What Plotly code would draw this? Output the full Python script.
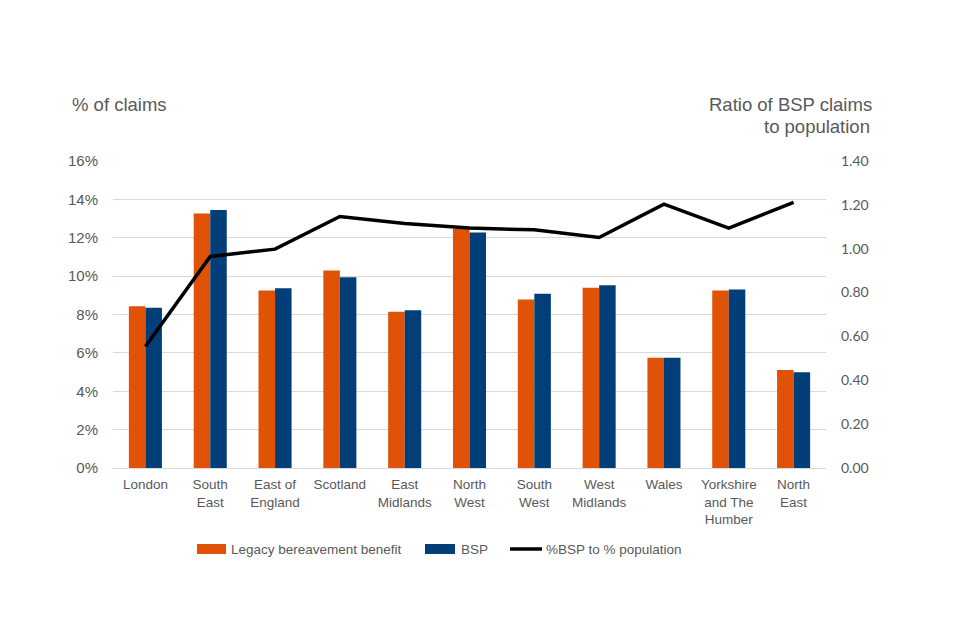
import plotly.graph_objects as go

regions = ["London", "South<br>East", "East of<br>England", "Scotland", "East<br>Midlands",
           "North<br>West", "South<br>West", "West<br>Midlands", "Wales",
           "Yorkshire<br>and The<br>Humber", "North<br>East"]
legacy = [8.43, 13.27, 9.25, 10.29, 8.14, 12.47, 8.78, 9.39, 5.75, 9.25, 5.11]
bsp = [8.35, 13.44, 9.37, 9.94, 8.22, 12.27, 9.08, 9.53, 5.75, 9.30, 4.99]
ratio = [0.554, 0.965, 0.998, 1.147, 1.115, 1.094, 1.086, 1.051, 1.203, 1.094, 1.211]

left_ticks = [0, 2, 4, 6, 8, 10, 12, 14, 16]
right_ticks = [0, 0.2, 0.4, 0.6, 0.8, 1.0, 1.2, 1.4]

ORANGE = "#E05206"
BLUE = "#023F78"
GREY = "#595959"
FONT = "Liberation Sans, Arial, sans-serif"

names = ["Legacy bereavement benefit", "BSP", "%BSP to % population"]

fig = go.Figure()
fig.add_trace(go.Bar(x=regions, y=legacy, name=names[0],
                     marker=dict(color=ORANGE, line=dict(width=0))))
fig.add_trace(go.Bar(x=regions, y=bsp, name=names[1],
                     marker=dict(color=BLUE, line=dict(width=0))))
fig.add_trace(go.Scatter(x=regions, y=ratio, name=names[2], yaxis="y2",
                         mode="lines", line=dict(color="black", width=3.5)))

# page has an 8px body offset; work in screen pixels and subtract it
OFF = 8
W, H = 960 - OFF, 640 - OFF
X0, X1, Y0, Y1 = 113 - OFF, 826 - OFF, 161 - OFF, 468 - OFF
L, R, T, B = X0, W - X1, Y0, H - Y1
pw, ph = X1 - X0, Y1 - Y0


def px(sx):
    return (sx - OFF - X0) / pw


def py(sy):
    return (Y1 - (sy - OFF)) / ph


shapes = [
    dict(type="rect", xref="paper", yref="paper", x0=px(197), x1=px(226),
         y0=py(554), y1=py(544), fillcolor=ORANGE, line=dict(width=0)),
    dict(type="rect", xref="paper", yref="paper", x0=px(425), x1=px(455),
         y0=py(554), y1=py(544), fillcolor=BLUE, line=dict(width=0)),
    dict(type="line", xref="paper", yref="paper", x0=px(510), x1=px(542),
         y0=py(549), y1=py(549), line=dict(color="black", width=3.5)),
]

annotations = [
    dict(text="% of claims", xref="paper", yref="paper",
         x=px(70), y=py(105), xanchor="left", yanchor="middle", showarrow=False,
         font=dict(size=18.5, color=GREY, family=FONT)),
    dict(text="Ratio of BSP claims", xref="paper", yref="paper",
         x=px(874), y=py(105), xanchor="right", yanchor="middle",
         showarrow=False, font=dict(size=18.5, color=GREY, family=FONT)),
    dict(text="to population", xref="paper", yref="paper",
         x=px(872), y=py(127), xanchor="right", yanchor="middle",
         showarrow=False, font=dict(size=18.5, color=GREY, family=FONT)),
]
for name, sx in zip(names, [229, 459, 544]):
    annotations.append(dict(text=name, xref="paper", yref="paper", x=px(sx), y=py(549),
                            xanchor="left", yanchor="middle", showarrow=False,
                            font=dict(size=13.5, color=GREY, family=FONT)))

fig.update_layout(
    width=W, height=H,
    margin=dict(l=L, r=R, t=T, b=B, autoexpand=False),
    paper_bgcolor="white", plot_bgcolor="white",
    font=dict(family=FONT, size=14, color=GREY),
    barmode="group", bargap=0.49, bargroupgap=0,
    showlegend=False,
    xaxis=dict(showgrid=False, showline=True, linecolor="#d9d9d9", linewidth=1,
               ticks="", ticklabelstandoff=4,
               tickfont=dict(size=13.5, color=GREY), fixedrange=True),
    yaxis=dict(range=[0, 16], tickvals=left_ticks, ticktext=[f"{v}%" for v in left_ticks],
               showgrid=True, gridcolor="#d9d9d9", gridwidth=1, zeroline=False,
               showline=False, ticks="", ticklabelstandoff=14,
               tickfont=dict(size=15, color=GREY)),
    yaxis2=dict(range=[0, 1.4], tickvals=right_ticks,
                ticktext=[f"{v:.2f}" for v in right_ticks],
                overlaying="y", side="right", showgrid=False, zeroline=False,
                showline=False, ticks="", ticklabelstandoff=14,
                tickfont=dict(size=14, color=GREY, family="Lato, Liberation Sans, sans-serif")),
    shapes=shapes,
    annotations=annotations,
)

fig.write_html("out.html")
